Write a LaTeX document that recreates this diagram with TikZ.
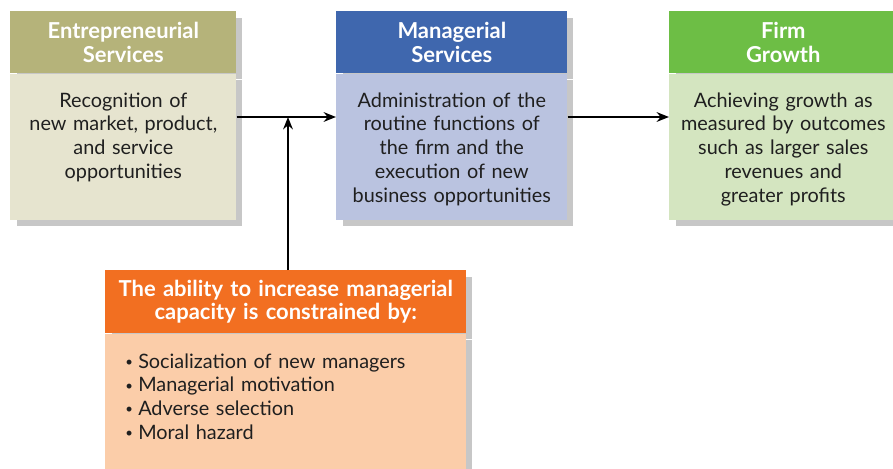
\documentclass[tikz,border=0pt]{standalone}
\usepackage{fontspec}
\setmainfont{Lato}
\usetikzlibrary{arrows.meta,positioning,shadows}

\definecolor{entHeadCol}{HTML}{B5B37A}
\definecolor{entBodyCol}{HTML}{E6E4CF}
\definecolor{mgrHeadCol}{HTML}{3F67AE}
\definecolor{mgrBodyCol}{HTML}{BAC3E0}
\definecolor{grwHeadCol}{HTML}{6DBE45}
\definecolor{grwBodyCol}{HTML}{D4E5C0}
\definecolor{capHeadCol}{HTML}{F26F21}
\definecolor{capBodyCol}{HTML}{FBCDA9}

\newcommand{\capbullet}{{\fontsize{7.5}{7.5}\selectfont\raisebox{1.1pt}{•}}\hspace{3pt}}

\tikzset{
  boxshadow/.style={drop shadow={shadow xshift=3.5pt,shadow yshift=-3.5pt,fill=black!22,opacity=1}},
  head/.style={anchor=north west,inner sep=0pt,minimum height=1.24cm,align=center,
    text=white,font=\bfseries\fontsize{12.5}{13.2}\selectfont,boxshadow},
  body/.style={anchor=north west,inner sep=0pt,align=center,text=black!88,
    text height=0.66cm,text depth=2.26cm,font=\fontsize{11.3}{13.6}\selectfont,boxshadow},
  flow/.style={->,line width=1.2pt}
}

\begin{document}
\begin{tikzpicture}[x=0.02cm,y=-0.02cm,>={Stealth[length=7pt,width=5.5pt]},line join=round]
  \useasboundingbox (0,0) rectangle (893,468);
  % top row
  \node[head,fill=entHeadCol,text width=4.52cm] (entHead) at (10,11) {Entrepreneurial\\Services};
  \node[body,fill=entBodyCol,text width=4.52cm] (entBody) at (entHead.south west)
    {Recognition of\\new market, product,\\and service\\opportunities};
  \node[head,fill=mgrHeadCol,text width=4.62cm] (mgrHead) at (336,11) {Managerial\\Services};
  \node[body,fill=mgrBodyCol,text width=4.62cm] (mgrBody) at (mgrHead.south west)
    {Administration of the\\routine functions of\\the firm and the\\execution of new\\business opportunities};
  \node[head,fill=grwHeadCol,text width=4.56cm] (grwHead) at (669,11) {Firm\\Growth};
  \node[body,fill=grwBodyCol,text width=4.56cm] (grwBody) at (grwHead.south west)
    {Achieving growth as\\measured by outcomes\\such as larger sales\\revenues and\\greater profits};
  % constraint box
  \node[head,fill=capHeadCol,text width=7.22cm,minimum height=1.26cm] (capHead) at (105,270)
    {The ability to increase managerial\\capacity is constrained by:};
  \node[body,fill=capBodyCol,text width=6.42cm,inner xsep=0.4cm,align=left,
    text height=0.68cm,text depth=2.1cm] (capBody) at (capHead.south west)
    {\capbullet Socialization of new managers\\\capbullet Managerial motivation\\
     \capbullet Adverse selection\\\capbullet Moral hazard};
  % connectors
  \coordinate (flowY) at (0,117);
  \coordinate (joinX) at (288,0);
  \draw[flow] (entBody.east |- flowY) -- (mgrBody.west |- flowY);
  \draw[flow] (mgrBody.east |- flowY) -- (grwBody.west |- flowY);
  \draw[flow] (capHead.north -| joinX) -- (joinX |- flowY);
\end{tikzpicture}
\end{document}
